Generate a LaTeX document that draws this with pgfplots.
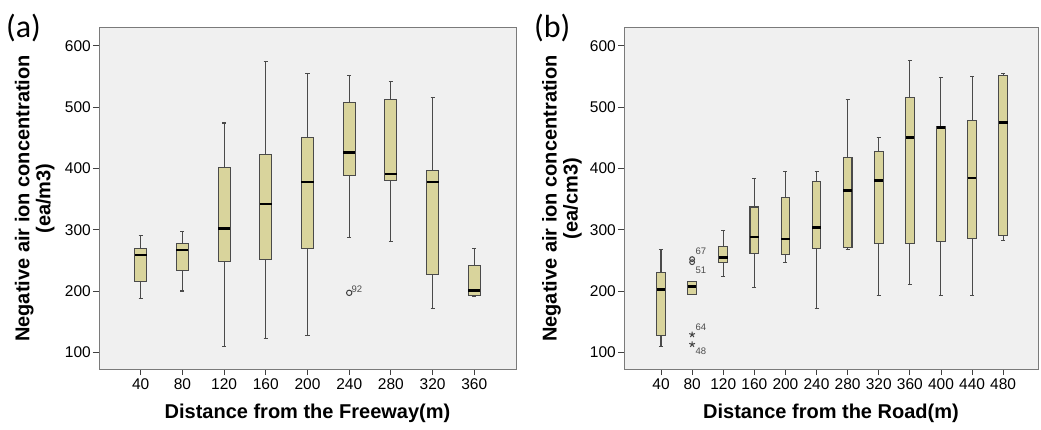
\documentclass[border=0pt]{standalone}
\usepackage{fontspec}
\setmainfont{Liberation Sans}
\newfontfamily\panelfont{Carlito}
\usepackage{pgfplots}
\pgfplotsset{compat=1.18}
\usepgfplotslibrary{statistics}

\definecolor{bgc}{HTML}{F0F0F0}
\definecolor{framec}{HTML}{7A7A7A}
\definecolor{boxfill}{HTML}{D9D49C}
\definecolor{boxline}{HTML}{4A4A4A}

% one box from prepared values: pos, lower whisker, Q1, median, Q3, upper whisker
\newcommand{\bx}[6]{%
  \addplot[boxstyle, boxplot prepared={draw position=#1, lower whisker=#2,
    lower quartile=#3, median=#4, upper quartile=#5, upper whisker=#6}] coordinates {};}

\pgfplotsset{
  boxstyle/.style={draw=boxline, fill=boxfill, line width=1.05pt,
    boxplot/every median/.style={draw=black, line width=2.6pt}},
  panel/.style={
    scale only axis, height=341pt,
    ymin=72.8, ymax=628.9,
    ytick={100,200,...,600},
    xtick pos=left, ytick pos=left,
    tick align=outside, major tick length=6pt,
    tick style={draw=black!75, line width=0.9pt},
    axis line style={draw=framec, line width=1pt},
    axis background/.style={fill=bgc},
    /pgf/number format/assume math mode=true,
    ticklabel style={font=\fontsize{15.5}{18}\selectfont},
    yticklabel style={inner sep=2pt},
    xlabel style={at={(rel axis cs:0.5,0)}, anchor=center, yshift=-44pt,
      font=\bfseries\fontsize{20}{21}\selectfont},
    ylabel style={anchor=center, align=center,
      font=\bfseries\fontsize{20}{21}\selectfont},
    boxplot/draw direction=y,
  },
  outl/.style={only marks, draw=black!75, line width=1pt,
    nodes near coords, point meta=explicit symbolic,
    every node near coord/.style={font=\fontsize{9.5}{10}\selectfont, text=black!70, inner sep=1pt}},
}

\begin{document}
\begin{tikzpicture}
\useasboundingbox (0pt,0pt) rectangle (1041pt,429pt);

\node[anchor=west, inner sep=0pt, font=\panelfont\fontsize{32}{34}\selectfont] at (6pt,401pt) {(a)};
\node[anchor=west, inner sep=0pt, font=\panelfont\fontsize{32}{34}\selectfont] at (534pt,401pt) {(b)};

\begin{axis}[panel, at={(99pt,60pt)}, anchor=south west, width=417pt,
  xmin=0, xmax=10, xtick={1,...,9},
  xticklabels={40,80,120,160,200,240,280,320,360},
  xlabel={Distance from the Freeway(m)},
  ylabel={Negative air ion concentration\\(ea/m3)},
  ylabel style={at={(rel axis cs:-0.154,0.5)}},
  boxplot/box extend=0.29, boxplot/whisker extend=0.1]
\bx{1}{188}{215}{259}{270}{290}
\bx{2}{200}{234}{267}{278}{297}
\bx{3}{109}{248}{302}{401}{474}
\bx{4}{122}{251}{342}{423}{575}
\bx{5}{127}{269}{378}{450}{554}
\bx{6}{287}{389}{426}{507}{551}
\bx{7}{281}{380}{391}{512}{541}
\bx{8}{172}{227}{378}{396}{515}
\bx{9}{191}{192}{201}{241}{270}
\addplot[outl, mark=o, mark size=2.7pt,
  every node near coord/.append style={anchor=south west, xshift=1pt, yshift=-1pt}]
  coordinates {(6,197) [92]};
\end{axis}

\begin{axis}[panel, at={(624pt,60pt)}, anchor=south west, width=414pt,
  xmin=-0.19, xmax=13.12, xtick={1,...,12},
  xticklabels={40,80,120,160,200,240,280,320,360,400,440,480},
  xlabel={Distance from the Road(m)},
  ylabel={Negative air ion concentration\\(ea/cm3)},
  ylabel style={at={(rel axis cs:-0.150,0.5)}},
  boxplot/box extend=0.28, boxplot/whisker extend=0.13]
\bx{1}{109}{127}{202}{230}{268}
\bx{2}{195}{195}{207}{215}{215}
\bx{3}{224}{246}{255}{273}{298}
\bx{4}{206}{261}{288}{337}{383}
\bx{5}{246}{260}{285}{353}{395}
\bx{6}{172}{269}{304}{378}{395}
\bx{7}{267}{271}{364}{418}{513}
\bx{8}{192}{277}{380}{427}{450}
\bx{9}{211}{278}{450}{516}{576}
\bx{10}{192}{280}{467}{469}{548}
\bx{11}{192}{285}{384}{478}{550}
\bx{12}{283}{290}{475}{551}{554}
\addplot[outl, mark=o, mark size=2.4pt,
  every node near coord/.append style={anchor=south west, xshift=2pt, yshift=3pt}]
  coordinates {(2,252) [67]};
\addplot[outl, mark=o, mark size=2.4pt,
  every node near coord/.append style={anchor=north west, xshift=2pt, yshift=-3pt}]
  coordinates {(2,247) [51]};
\addplot[outl, mark=star, mark size=3pt,
  every node near coord/.append style={anchor=south west, xshift=2pt, yshift=2pt}]
  coordinates {(2,129) [64]};
\addplot[outl, mark=star, mark size=3pt,
  every node near coord/.append style={anchor=north west, xshift=2pt, yshift=-2pt}]
  coordinates {(2,113) [48]};
\end{axis}
\end{tikzpicture}
\end{document}
